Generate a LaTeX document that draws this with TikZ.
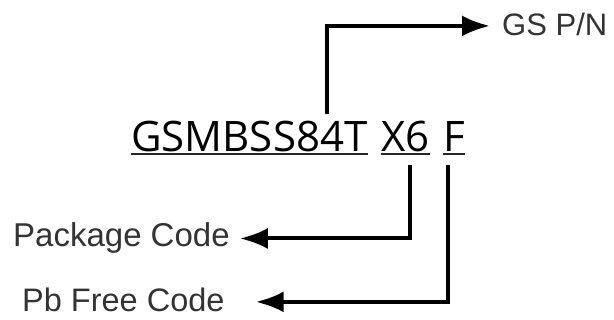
\documentclass[tikz,border=0pt]{standalone}
\usepackage{fontspec}
\setmainfont{Liberation Sans}
\newfontfamily\partfont{Open Sans}
\usetikzlibrary{arrows.meta,calc}
\begin{document}
\begin{tikzpicture}[x=1pt,y=-1pt,
  partcode/.style={inner sep=0pt,anchor=base west,font=\partfont\fontsize{42}{48}\selectfont,text=black},
  label/.style={inner sep=0pt,text=black!80},
  uline/.style={line width=2pt,black!85},
  conn/.style={line width=4pt,black,-{Latex[length=28pt,width=21pt]}}]
\useasboundingbox (0,0) rectangle (614,320);
% part number pieces
\node[partcode] (pn) at (131,152) {GSMBSS84T};
\node[partcode] (x6) at (381,152) {X6};
\node[partcode] (f)  at (443,152) {F};
% underlines
\draw[uline] ([yshift=-2pt]pn.base west) -- ([yshift=-2pt]pn.base east);
\draw[uline] ([yshift=-2pt]x6.base west) -- ([yshift=-2pt]x6.base east);
\draw[uline] ([yshift=-2pt]f.base west) -- ([yshift=-2pt]f.base east);
% labels
\node[label,anchor=base west,font=\fontsize{31}{36}\selectfont] (gs) at (502,36) {GS P/N};
\node[label,anchor=base west,font=\fontsize{33}{38}\selectfont] (pc) at (13,247) {Package Code};
\node[label,anchor=base west,font=\fontsize{32.5}{38}\selectfont] (pb) at (22,312) {Pb Free Code};
% connectors
\draw[conn] ([xshift=196pt,yshift=7pt]pn.north west) |- ([xshift=-12pt,yshift=-1pt]gs.west);
\draw[conn] ([xshift=29pt,yshift=-13pt]x6.base west) |- ([xshift=10pt]pc.east);
\draw[conn] ([xshift=5pt,yshift=-13pt]f.base west) |- ([xshift=31pt,yshift=-1.5pt]pb.east);
\end{tikzpicture}
\end{document}
